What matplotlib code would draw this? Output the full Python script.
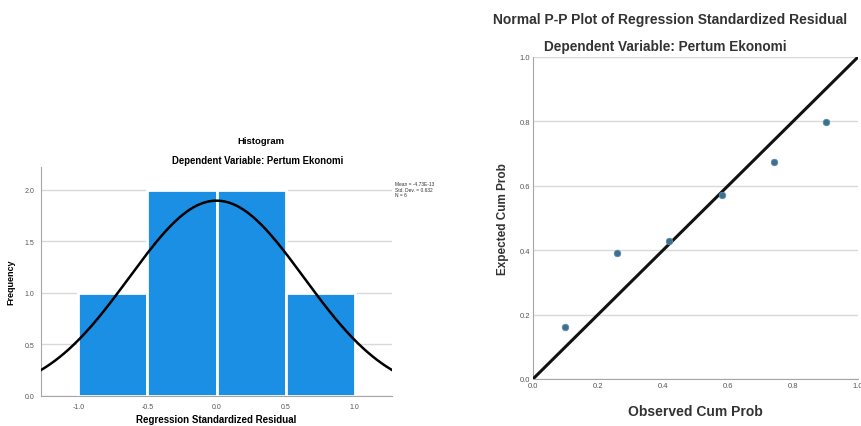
import numpy as np
import matplotlib
matplotlib.use('Agg')
import matplotlib.pyplot as plt

plt.rcParams['font.family'] = ['Liberation Sans', 'DejaVu Sans']

# Histogram data
bin_edges = [-1.0, -0.5, 0.0, 0.5, 1.0]
bin_counts = [1, 2, 2, 1]
res_mean = -4.73e-13
res_sd = 0.632
res_n = 6
hist_xticks = [-1.0, -0.5, 0.0, 0.5, 1.0]
hist_yticks = [0.0, 0.5, 1.0, 1.5, 2.0]

# P-P plot data
observed_cum = [0.10, 0.26, 0.42, 0.58, 0.74, 0.90]
expected_cum = [0.161, 0.391, 0.429, 0.571, 0.674, 0.798]
pp_ticks = [0.0, 0.2, 0.4, 0.6, 0.8, 1.0]

GRID = '#d9d9d9'
SPINE = '#a6a6a6'
TICK = '#555555'

fig = plt.figure(figsize=(8.62, 4.27), dpi=100)

# ---- Histogram ----
ax1 = fig.add_axes([0.0476, 0.0703, 0.4072, 0.5363])
lefts = bin_edges[:-1]
widths = np.diff(bin_edges)
ax1.bar(lefts, bin_counts, width=widths, align='edge', color='#1b8fe3',
        edgecolor='white', linewidth=2.0, zorder=2)
xs = np.linspace(-1.27, 1.27, 300)
binw = widths[0]
curve = res_n * binw / (res_sd * np.sqrt(2 * np.pi)) * np.exp(-0.5 * ((xs - res_mean) / res_sd) ** 2)
ax1.plot(xs, curve, color='black', linewidth=1.8, zorder=3)
ax1.set_xlim(-1.27, 1.27)
ax1.set_ylim(0, 2.22)
ax1.set_xticks(hist_xticks)
ax1.set_yticks(hist_yticks)
ax1.set_xticklabels([f"{v:.1f}" for v in hist_xticks])
ax1.set_yticklabels([f"{v:.1f}" for v in hist_yticks])
ax1.yaxis.grid(True, color=GRID, linewidth=1.0, zorder=0)
ax1.set_axisbelow(True)
for s in ['top', 'right']:
    ax1.spines[s].set_visible(False)
for s in ['left', 'bottom']:
    ax1.spines[s].set_color(SPINE)
ax1.tick_params(length=0, labelsize=5, colors=TICK, pad=5)
ax1.set_xlabel("Regression Standardized Residual", fontsize=7, fontweight='bold')
ax1.xaxis.set_label_coords(0.5, -0.08)
ax1.set_ylabel("Frequency", fontsize=6.5, fontweight='bold')
ax1.yaxis.set_label_coords(-0.072, 0.5)

fig.text(261 / 862, 1 - 142 / 427, "Histogram", ha='center', va='center',
         fontsize=6.8, fontweight='bold')
fig.text(258 / 862, 1 - 161 / 427, "Dependent Variable: Pertum Ekonomi", ha='center',
         va='center', fontsize=6.9, fontweight='bold')
fig.text(395 / 862, 1 - 190 / 427,
         f"Mean = -4.73E-13\nStd. Dev. = {res_sd:.3f}\nN = {res_n}",
         ha='left', va='center', fontsize=3.5, color='#333333', linespacing=1.1)

# ---- P-P plot ----
ax2 = fig.add_axes([0.6183, 0.1101, 0.3771, 0.7541])
ax2.plot([0, 1], [0, 1], color='#111111', linewidth=2.2, zorder=3)
ax2.scatter(observed_cum, expected_cum, s=22, color='#3f6f8e', edgecolors='#5d8aa8',
            linewidths=0.6, zorder=4)
ax2.set_xlim(0, 1)
ax2.set_ylim(0, 1)
ax2.set_xticks(pp_ticks)
ax2.set_yticks(pp_ticks)
ax2.set_xticklabels([f"{v:.1f}" for v in pp_ticks])
ax2.set_yticklabels([f"{v:.1f}" for v in pp_ticks])
ax2.yaxis.grid(True, color=GRID, linewidth=1.0, zorder=0)
ax2.set_axisbelow(True)
for s in ['top', 'right']:
    ax2.spines[s].set_visible(False)
for s in ['left', 'bottom']:
    ax2.spines[s].set_color(SPINE)
ax2.tick_params(length=0, labelsize=5.5, colors=TICK, pad=2)
ax2.set_xlabel("Observed Cum Prob", fontsize=10, fontweight='bold', color='#333333', labelpad=11)
ax2.set_ylabel("Expected Cum Prob", fontsize=8.5, fontweight='bold', color='#333333', labelpad=8)

fig.text(670 / 862, 1 - 20 / 427, "Normal P-P Plot of Regression Standardized Residual",
         ha='center', va='center', fontsize=10, fontweight='bold', color='#333333')
fig.text(665 / 862, 1 - 47 / 427, "Dependent Variable: Pertum Ekonomi",
         ha='center', va='center', fontsize=9.8, fontweight='bold', color='#333333')

fig.savefig("out.png", dpi=100)
plt.close(fig)
